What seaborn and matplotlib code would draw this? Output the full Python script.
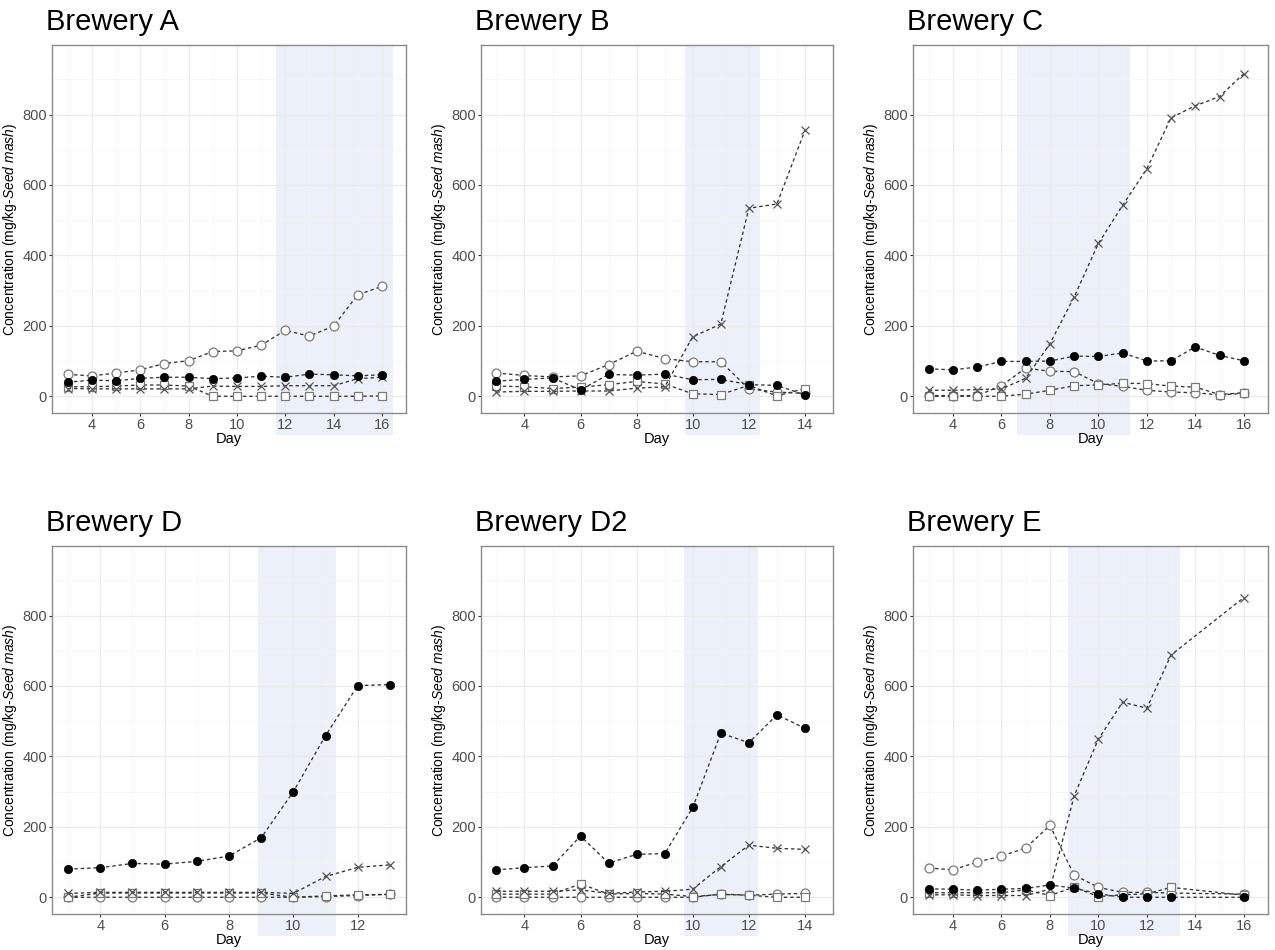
import numpy as np
import pandas as pd
import matplotlib
matplotlib.use("Agg")
import matplotlib.pyplot as plt
import seaborn as sns

# ---- data ----
brewery_names = ["Brewery A", "Brewery B", "Brewery C", "Brewery D", "Brewery D2", "Brewery E"]

days_a = [3, 4, 5, 6, 7, 8, 9, 10, 11, 12, 13, 14, 15, 16]
filled_a = [40, 46, 44, 51, 54, 54, 50, 52, 57, 54, 63, 61, 58, 61]
open_a = [62, 58, 66, 75, 93, 101, 127, 129, 145, 187, 171, 199, 288, 312]
square_a = [27, 27, 29, 32, 32, 29, 0, 0, 0, 0, 0, 0, 0, 1]
cross_a = [22, 21, 21, 21, 21, 21, 29, 28, 28, 30, 30, 30, 50, 54]

days_b = [3, 4, 5, 6, 7, 8, 9, 10, 11, 12, 13, 14]
filled_b = [43, 48, 52, 18, 62, 60, 63, 47, 48, 33, 31, 4]
open_b = [66, 59, 55, 58, 90, 128, 107, 98, 98, 21, 12, 8]
square_b = [29, 27, 22, 26, 33, 42, 35, 7, 5, 31, 1, 22]
cross_b = [12, 14, 14, 15, 15, 23, 27, 169, 205, 534, 546, 755]

days_c = [3, 4, 5, 6, 7, 8, 9, 10, 11, 12, 13, 14, 15, 16]
filled_c = [78, 75, 83, 99, 99, 100, 114, 113, 123, 100, 101, 140, 116, 101]
open_c = [2, 2, 2, 30, 80, 71, 70, 36, 28, 17, 12, 10, 4, 8]
square_c = [0, 0, 0, 0, 6, 17, 30, 32, 37, 36, 29, 26, 5, 10]
cross_c = [17, 17, 19, 21, 51, 149, 282, 434, 542, 646, 791, 825, 851, 916]

days_d = [3, 4, 5, 6, 7, 8, 9, 10, 11, 12, 13]
filled_d = [80, 84, 96, 94, 102, 117, 169, 300, 459, 601, 604]
open_d = [0, 0, 0, 0, 0, 0, 0, 0, 2, 5, 9]
square_d = [0, 12, 12, 12, 12, 12, 12, 0, 4, 7, 8]
cross_d = [11, 14, 14, 14, 14, 14, 14, 11, 59, 85, 92]

days_d2 = [3, 4, 5, 6, 7, 8, 9, 10, 11, 12, 13, 14]
filled_d2 = [78, 84, 89, 174, 97, 122, 124, 255, 466, 439, 518, 480]
open_d2 = [0, 0, 0, 0, 0, 0, 0, 0, 9, 6, 9, 11]
square_d2 = [9, 9, 9, 38, 9, 11, 9, 2, 8, 6, 0, 0]
cross_d2 = [17, 17, 17, 21, 11, 15, 17, 23, 87, 148, 139, 136]

days_e = [3, 4, 5, 6, 7, 8, 9, 10, 11, 12, 13, 16]
filled_e = [24, 23, 20, 23, 25, 35, 26, 10, 0, 0, 0, 0]
open_e = [83, 78, 100, 117, 140, 204, 63, 28, 14, 14, 12, 9]
square_e = [13, 13, 13, 13, 21, 5, 29, 2, 7, 10, 28, 6]
cross_e = [7, 7, 5, 5, 5, 23, 288, 449, 554, 537, 688, 851]

# shaded day window per brewery
shade_start = [11.62, 9.71, 6.65, 8.9, 9.69, 8.73]
shade_end = [16.46, 12.39, 11.29, 11.33, 12.33, 13.35]

days_all = [days_a, days_b, days_c, days_d, days_d2, days_e]
filled_all = [filled_a, filled_b, filled_c, filled_d, filled_d2, filled_e]
open_all = [open_a, open_b, open_c, open_d, open_d2, open_e]
square_all = [square_a, square_b, square_c, square_d, square_d2, square_e]
cross_all = [cross_a, cross_b, cross_c, cross_d, cross_d2, cross_e]

# ---- styling ----
sns.set_theme(style="white")
plt.rcParams["font.family"] = ["Liberation Sans", "DejaVu Sans"]
plt.rcParams["mathtext.fontset"] = "custom"
plt.rcParams["mathtext.rm"] = "Liberation Sans"
plt.rcParams["mathtext.it"] = "Liberation Sans:italic"

line_col = "#333333"
dash = (2.6, 2.2)
series_style = {
    "open_circle": dict(marker="o", markerfacecolor="white", markeredgecolor="#7a7a7a",
                        markersize=6.4, markeredgewidth=0.9),
    "open_square": dict(marker="s", markerfacecolor="white", markeredgecolor="#7a7a7a",
                        markersize=5.8, markeredgewidth=0.9),
    "cross": dict(marker="x", markeredgecolor="#555555", markersize=6.2, markeredgewidth=0.9),
    "filled_circle": dict(marker="o", markerfacecolor="black", markeredgecolor="black",
                          markersize=6.0, markeredgewidth=0.5),
}

W, H = 1275, 950
fig = plt.figure(figsize=(W / 100, H / 100), dpi=100)

col_left = [52, 481, 913]
col_width = [354, 352, 355]
row_top = [45, 546]
panel_h = 368

for i, name in enumerate(brewery_names):
    r, c = divmod(i, 3)
    left, top = col_left[c], row_top[r]
    ax = fig.add_axes([left / W, 1 - (top + panel_h) / H, col_width[c] / W, panel_h / H])

    df = pd.DataFrame({
        "day": days_all[i],
        "open_circle": open_all[i],
        "open_square": square_all[i],
        "cross": cross_all[i],
        "filled_circle": filled_all[i],
    })

    for key in ["open_circle", "open_square", "cross", "filled_circle"]:
        sns.lineplot(data=df, x="day", y=key, ax=ax, color=line_col, linewidth=0.95,
                     dashes=False, linestyle=(0, dash), zorder=3, **series_style[key])

    ax.axvspan(shade_start[i], shade_end[i], ymin=-0.06, ymax=1, color="#ECF1F9",
               lw=0, zorder=0.2, clip_on=False)

    dmin, dmax = min(days_all[i]), max(days_all[i])
    span = dmax - dmin
    ax.set_xlim(dmin - 0.05 * span, dmax + 0.05 * span)
    ax.set_ylim(-47.5, 997.5)
    ax.set_xticks(np.arange(4, dmax + 1, 2))
    ax.set_xticks(np.arange(3, dmax + 2, 2), minor=True)
    ax.set_yticks([0, 200, 400, 600, 800])
    ax.set_yticks([100, 300, 500, 700, 900], minor=True)

    ax.set_axisbelow(True)
    ax.grid(which="major", color="#EBEBEB", linewidth=0.9)
    ax.grid(which="minor", color="#F4F4F4", linewidth=0.5)
    ax.tick_params(which="major", direction="out", length=2.5, width=0.8, color="#333333",
                   labelsize=10.5, labelcolor="#4D4D4D", pad=1.2, bottom=True, left=True)
    ax.tick_params(which="minor", length=0)
    for sp in ax.spines.values():
        sp.set_color("#8c8c8c")
        sp.set_linewidth(1.0)
        sp.set_zorder(4)

    ax.set_xlabel("Day", fontsize=10.5, color="black", labelpad=0)
    ax.set_ylabel(r"Concentration (mg/kg-$\mathit{Seed\ mash}$)", fontsize=10,
                  color="black", labelpad=2.5)

    fig.text((left - 6) / W, 1 - (top - 15) / H, name, fontsize=21, ha="left",
             va="baseline", color="black")

fig.savefig("out.png", dpi=100)
